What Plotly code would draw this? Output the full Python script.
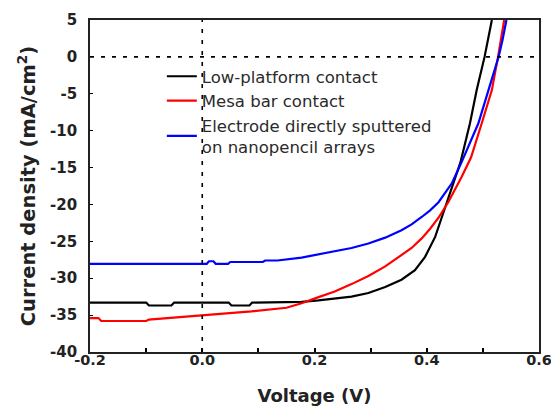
import plotly.graph_objects as go

# Black: Low-platform contact
v_black = [-0.2, -0.1, -0.095, -0.055, -0.05, 0.047, 0.052, 0.084, 0.089, 0.177, 0.207, 0.266, 0.296, 0.326, 0.355, 0.367, 0.379, 0.397, 0.415, 0.427, 0.445, 0.46, 0.477, 0.489, 0.503, 0.509, 0.516]
j_black = [-33.3, -33.3, -33.7, -33.7, -33.3, -33.3, -33.7, -33.7, -33.3, -33.2, -33.0, -32.5, -32.0, -31.2, -30.2, -29.6, -28.9, -27.1, -24.4, -21.7, -17.6, -14.3, -9.0, -4.5, 0.0, 2.3, 5.0]

# Red: Mesa bar contact
v_red = [-0.2, -0.185, -0.18, -0.1, -0.095, -0.079, 0.0, 0.0875, 0.15, 0.177, 0.206, 0.236, 0.266, 0.296, 0.326, 0.355, 0.373, 0.391, 0.406, 0.421, 0.439, 0.4625, 0.479, 0.498, 0.516, 0.527, 0.532, 0.538]
j_red = [-35.4, -35.4, -35.8, -35.8, -35.6, -35.5, -35.0, -34.5, -34.0, -33.4, -32.6, -31.8, -30.8, -29.7, -28.4, -26.9, -25.9, -24.6, -23.3, -21.8, -19.6, -16.2, -13.6, -9.0, -4.5, 0.0, 2.3, 5.0]

# Blue: Electrode directly sputtered on nanopencil arrays
v_blue = [-0.2, 0.008, 0.012, 0.02, 0.024, 0.046, 0.05, 0.108, 0.112, 0.134, 0.177, 0.206, 0.236, 0.266, 0.296, 0.326, 0.355, 0.373, 0.391, 0.406, 0.421, 0.445, 0.4625, 0.492, 0.51, 0.528, 0.535, 0.542]
j_blue = [-28.05, -28.05, -27.7, -27.7, -28.05, -28.05, -27.8, -27.8, -27.6, -27.6, -27.2, -26.8, -26.4, -25.9, -25.3, -24.5, -23.5, -22.7, -21.7, -20.8, -19.7, -17.1, -14.2, -9.0, -4.5, 0.0, 2.3, 5.0]

names = ["Low-platform contact", "Mesa bar contact", "Electrode directly sputtered<br>on nanopencil arrays"]
colors = ["#000000", "#ff0000", "#0000ff"]

x_ticks = [-0.2, 0.0, 0.2, 0.4, 0.6]
y_ticks = [5, 0, -5, -10, -15, -20, -25, -30, -35, -40]

fig = go.Figure()
for i, (v, j, n, c) in enumerate(zip([v_black, v_red, v_blue], [j_black, j_red, j_blue], names, colors)):
    fig.add_trace(go.Scatter(x=v, y=j, mode="lines", name=n, legendgroup=str(i),
                             line=dict(color=c, width=2.2)))

fig.add_hline(y=0, line=dict(color="black", width=1.6, dash="4px,7px"))
fig.add_vline(x=0, line=dict(color="black", width=1.6, dash="4px,7px"))

font_fam = "DejaVu Sans, Verdana, sans-serif"
txt = "#222222"
fig.update_layout(
    width=551, height=408,
    margin=dict(l=90, r=12, t=20, b=56),
    paper_bgcolor="white", plot_bgcolor="white",
    font=dict(family=font_fam, color=txt),
    showlegend=True,
    legend=dict(x=0.16, y=0.8825, xanchor="left", yanchor="top",
                bgcolor="rgba(0,0,0,0)", font=dict(size=16.5, color="#2a2a2a", family=font_fam),
                tracegroupgap=0, itemwidth=30),
    xaxis=dict(range=[-0.2, 0.6], tickvals=x_ticks, ticktext=[f"{t:.1f}" for t in x_ticks],
               ticks="inside", ticklen=4, tickwidth=1.5, tickcolor="black",
               minor=dict(dtick=0.1, ticks="inside", ticklen=4, tickwidth=1.5, tickcolor="black"),
               showline=True, linecolor="#222222", linewidth=1.8, mirror=True,
               showgrid=False, zeroline=False, automargin=False,
               ticklabelstandoff=-6, ticklabeloverflow="allow",
               tickfont=dict(size=14.5, family=font_fam, color=txt, weight="bold"),
               title=dict(text="<b>Voltage (V)</b>", font=dict(size=18, color=txt, family=font_fam), standoff=22)),
    yaxis=dict(range=[-40, 5], tickvals=y_ticks, ticktext=[str(t) for t in y_ticks],
               ticks="inside", ticklen=3, tickwidth=1.2, tickcolor="black",
               showline=True, linecolor="#222222", linewidth=1.8, mirror=True,
               showgrid=False, zeroline=False, automargin=False,
               ticklabelstandoff=8, ticklabeloverflow="allow",
               tickfont=dict(size=15, family=font_fam, color=txt, weight="bold"),
               title=dict(text="<b>Current density (mA/cm<sup>2</sup>)</b>", font=dict(size=19.5, color=txt, family=font_fam), standoff=9)),
)

fig.write_html("out.html", config={"displayModeBar": False},
               post_script="document.body.style.margin='0';document.documentElement.style.overflow='hidden';")
